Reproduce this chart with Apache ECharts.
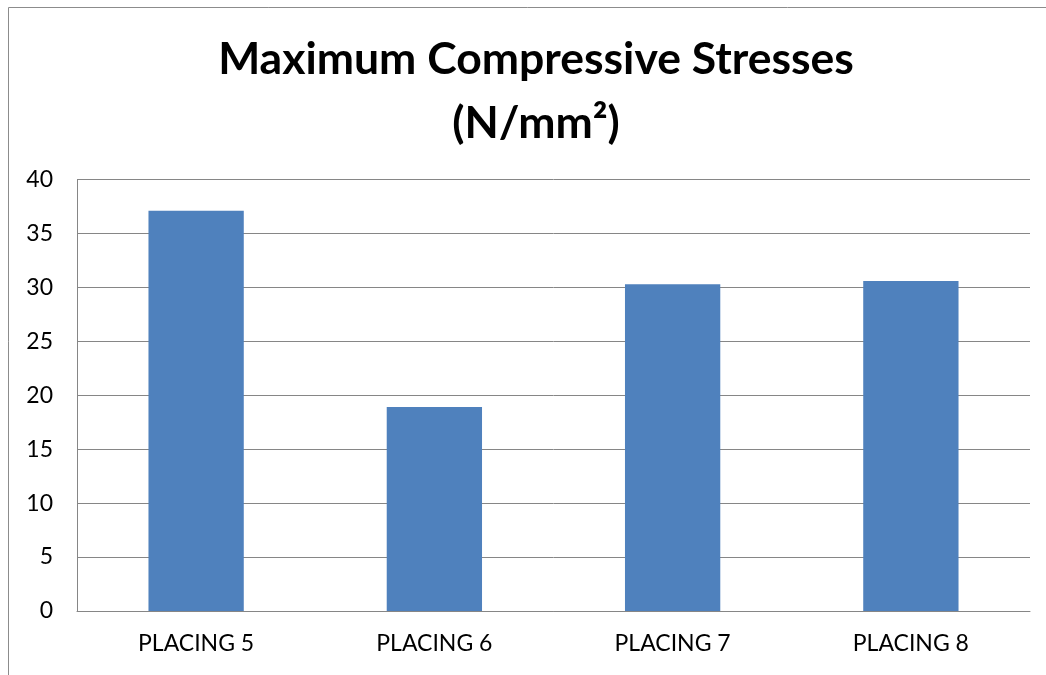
<!DOCTYPE html>
<html>
<head>
<meta charset="utf-8">
<script src="https://cdn.jsdelivr.net/npm/echarts@6/dist/echarts.min.js"></script>
<style>
  html, body { margin: 0; padding: 0; background: #ffffff; }
  #chart { width: 1046px; height: 675px; }
</style>
</head>
<body>
<div id="chart"></div>
<script>
// Maximum compressive stress at each placing (N/mm²)
const categories = ['PLACING 5', 'PLACING 6', 'PLACING 7', 'PLACING 8'];
const stresses = [37.1, 18.9, 30.3, 30.6];
const titleText = 'Maximum Compressive Stresses\n(N/mm²)';

const chart = echarts.init(document.getElementById('chart'), null, { renderer: 'canvas' });
const font = 'Lato, Open Sans, Noto Sans, sans-serif';

chart.setOption({
  animation: false,
  backgroundColor: '#ffffff',
  graphic: [{
    type: 'rect',
    shape: { x: 8.5, y: 7.5, width: 1100, height: 800 },
    style: { fill: 'none', stroke: '#8c8c8c', lineWidth: 1 },
    silent: true
  }],
  title: {
    text: titleText,
    left: 531,
    top: 23,
    padding: 5,
    textAlign: 'center',
    textStyle: {
      fontFamily: font,
      fontWeight: 'bold',
      fontSize: 44.5,
      lineHeight: 64,
      color: '#000000'
    }
  },
  grid: { left: 77, right: 16, top: 179.5, bottom: 64 },
  xAxis: {
    type: 'category',
    data: categories,
    axisLine: { show: true, lineStyle: { color: '#868686', width: 1 } },
    axisTick: { show: false },
    axisLabel: { color: '#000000', fontFamily: font, fontSize: 23, margin: 21 }
  },
  yAxis: {
    type: 'value',
    min: 0,
    max: 40,
    interval: 5,
    axisLine: { show: true, lineStyle: { color: '#868686', width: 1 } },
    axisTick: { show: false },
    axisLabel: { color: '#000000', fontFamily: font, fontSize: 23, margin: 24 },
    splitLine: { show: true, lineStyle: { color: '#868686', width: 1 } }
  },
  series: [{
    type: 'bar',
    data: stresses,
    barWidth: '40%',
    itemStyle: { color: '#4f81bd' }
  }]
});
</script>
</body>
</html>
